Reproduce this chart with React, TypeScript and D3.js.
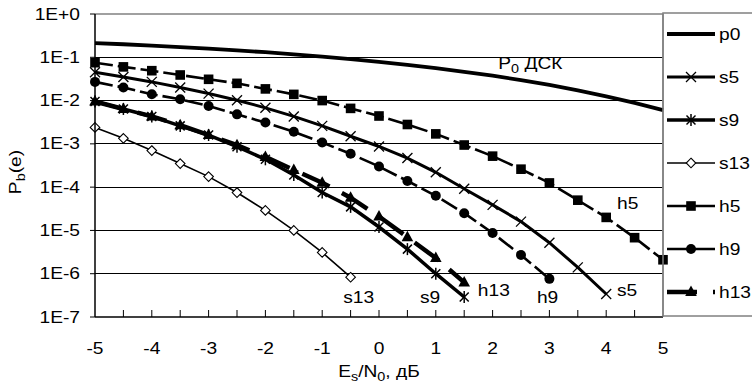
import React from 'react';
import * as d3 from 'd3';

const width = 752;
const height = 387;
const margin = { top: 14, right: 89, bottom: 70, left: 95 };

// Es/N0, dB
const xP0 = [-5, -4.5, -4, -3.5, -3, -2.5, -2, -1.5, -1, -0.5, 0, 0.5, 1, 1.5, 2, 2.5, 3, 3.5, 4, 4.5, 5];
const p0 = [0.213, 0.2, 0.186, 0.172, 0.158, 0.144, 0.131, 0.117, 0.104, 0.091, 0.0786, 0.067, 0.0563, 0.046, 0.0375, 0.0296, 0.0229, 0.0172, 0.0125, 0.0088, 0.006];

const xS5 = [-5, -4.5, -4, -3.5, -3, -2.5, -2, -1.5, -1, -0.5, 0, 0.5, 1, 1.5, 2, 2.5, 3, 3.5, 4];
const s5 = [0.045, 0.035, 0.027, 0.02, 0.0145, 0.0102, 0.0068, 0.0043, 0.0026, 0.0015, 0.00087, 0.00047, 0.00022, 0.000092, 0.000039, 0.000016, 0.0000052, 0.0000014, 0.00000034];

const xS9 = [-5, -4.5, -4, -3.5, -3, -2.5, -2, -1.5, -1, -0.5, 0, 0.5, 1, 1.5];
const s9 = [0.0095, 0.0064, 0.0043, 0.0026, 0.0016, 0.00086, 0.00044, 0.00019, 0.000075, 0.000035, 0.000012, 0.0000037, 0.000001, 0.00000029];

const xS13 = [-5, -4.5, -4, -3.5, -3, -2.5, -2, -1.5, -1, -0.5];
const s13 = [0.0024, 0.00134, 0.0007, 0.00035, 0.000175, 0.000075, 0.000029, 0.00001, 0.0000031, 0.00000083];

const xH5 = [-5, -4.5, -4, -3.5, -3, -2.5, -2, -1.5, -1, -0.5, 0, 0.5, 1, 1.5, 2, 2.5, 3, 3.5, 4, 4.5, 5];
const h5 = [0.075, 0.06, 0.049, 0.039, 0.031, 0.025, 0.0186, 0.0139, 0.01, 0.0066, 0.0044, 0.0028, 0.0017, 0.00094, 0.00052, 0.00026, 0.000125, 0.00005, 0.00002, 0.0000068, 0.0000021];

const xH9 = [-5, -4.5, -4, -3.5, -3, -2.5, -2, -1.5, -1, -0.5, 0, 0.5, 1, 1.5, 2, 2.5, 3];
const h9 = [0.027, 0.02, 0.014, 0.0107, 0.0075, 0.0048, 0.0031, 0.0019, 0.00107, 0.00059, 0.0003, 0.000139, 0.000063, 0.000025, 0.0000087, 0.0000027, 0.00000076];

const xH13 = [-5, -4.5, -4, -3.5, -3, -2.5, -2, -1.5, -1, -0.5, 0, 0.5, 1, 1.5];
const h13 = [0.0095, 0.0064, 0.0043, 0.0027, 0.0016, 0.00093, 0.0005, 0.00025, 0.000126, 0.000057, 0.000021, 0.000007, 0.0000023, 0.00000063];

const yTicks = [1, 1e-1, 1e-2, 1e-3, 1e-4, 1e-5, 1e-6, 1e-7];
const yTickLabels = ['1E+0', '1E-1', '1E-2', '1E-3', '1E-4', '1E-5', '1E-6', '1E-7'];
const xTicks = [-5, -4, -3, -2, -1, 0, 1, 2, 3, 4, 5];
const xMinorTicks = [-4.5, -4, -3.5, -3, -2.5, -2, -1.5, -1, -0.5, 0, 0.5, 1, 1.5, 2, 2.5, 3, 3.5, 4, 4.5];

const font = 'Arial, "Liberation Sans", sans-serif';
const fs = 16;
const sx = 1.2; // glyphs in the original are a bit stretched horizontally

type Marker = 'none' | 'x' | 'star' | 'diamond' | 'square' | 'circle' | 'triangle';

const series: { name: string; xs: number[]; ys: number[]; width: number; dash?: string; marker: Marker }[] = [
  { name: 'p0', xs: xP0, ys: p0, width: 3.8, marker: 'none' },
  { name: 's5', xs: xS5, ys: s5, width: 3, marker: 'x' },
  { name: 's9', xs: xS9, ys: s9, width: 3.5, marker: 'star' },
  { name: 's13', xs: xS13, ys: s13, width: 1.6, marker: 'diamond' },
  { name: 'h5', xs: xH5, ys: h5, width: 2.6, dash: '18,5', marker: 'square' },
  { name: 'h9', xs: xH9, ys: h9, width: 2.6, dash: '18,5', marker: 'circle' },
  { name: 'h13', xs: xH13, ys: h13, width: 4.5, dash: '30,14', marker: 'triangle' },
];

function Label({ x, y, anchor = 'start', rotate = 0, children }: { x: number; y: number; anchor?: string; rotate?: number; children: React.ReactNode }) {
  return (
    <text
      transform={`translate(${x},${y}) rotate(${rotate}) scale(${sx},1)`}
      dy="0.35em"
      textAnchor={anchor}
      fontFamily={font}
      fontSize={fs}
    >
      {children}
    </text>
  );
}

function MarkerShape({ type, x, y }: { type: Marker; x: number; y: number }) {
  const t = `translate(${x},${y})`;
  switch (type) {
    case 'x':
      return (
        <g transform={t} stroke="#000" strokeWidth={1.3}>
          <line x1={-5} y1={-5} x2={5} y2={5} />
          <line x1={-5} y1={5} x2={5} y2={-5} />
        </g>
      );
    case 'star':
      return (
        <g transform={t} stroke="#000" strokeWidth={1.5}>
          <line x1={-4.5} y1={-4.5} x2={4.5} y2={4.5} />
          <line x1={-4.5} y1={4.5} x2={4.5} y2={-4.5} />
          <line x1={0} y1={-6} x2={0} y2={6} />
        </g>
      );
    case 'diamond':
      return <path transform={t} d="M0,-4.8L4.8,0L0,4.8L-4.8,0Z" fill="#fff" stroke="#000" strokeWidth={1.1} />;
    case 'square':
      return <rect x={x - 4.8} y={y - 4.8} width={9.6} height={9.6} fill="#000" />;
    case 'circle':
      return <circle cx={x} cy={y} r={5} fill="#000" />;
    case 'triangle':
      return <path transform={t} d="M0,-6.5L5.8,4L-5.8,4Z" fill="#000" />;
    default:
      return null;
  }
}

export default function App() {
  const x = d3.scaleLinear().domain([-5, 5]).range([margin.left, width - margin.right]);
  const y = d3.scaleLog().domain([1e-7, 1]).range([height - margin.bottom, margin.top]);
  const line = d3.line<[number, number]>().x(d => x(d[0])).y(d => y(d[1]));

  const x0 = x(-5);
  const x1 = x(5);
  const yTop = y(1);
  const yBot = y(1e-7);

  const legendX = x1 + 4;
  const legendY0 = 34;
  const legendStep = 43;
  const sub = 12;

  return (
    <svg width={width} height={height} style={{ position: 'absolute', left: 0, top: 0, background: '#fff' }}>
      <rect x={0} y={0} width={width} height={height} fill="#fff" />

      {/* gridlines */}
      {yTicks.slice(1, -1).map(v => (
        <line key={v} x1={x0} x2={x1} y1={y(v)} y2={y(v)} stroke="#000" strokeWidth={1} shapeRendering="crispEdges" />
      ))}
      <line x1={x0} x2={x1} y1={yTop} y2={yTop} stroke="#808080" strokeWidth={1.5} />
      <line x1={x1} x2={x1} y1={yTop} y2={yBot} stroke="#808080" strokeWidth={1.5} />

      {/* series */}
      {series.map(s => (
        <g key={s.name}>
          <path
            d={line(s.xs.map((v, i) => [v, s.ys[i]] as [number, number])) || ''}
            fill="none"
            stroke="#000"
            strokeWidth={s.width}
            strokeDasharray={s.dash}
          />
          {s.xs.map((v, i) => (
            <MarkerShape key={i} type={s.marker} x={x(v)} y={y(s.ys[i])} />
          ))}
        </g>
      ))}

      {/* axes */}
      <line x1={x0} x2={x0} y1={yTop} y2={yBot} stroke="#000" strokeWidth={1.5} />
      <line x1={x0} x2={x1} y1={yBot} y2={yBot} stroke="#000" strokeWidth={1.5} />
      {yTicks.map((v, i) => (
        <g key={v}>
          <line x1={x0 - 5} x2={x0} y1={y(v)} y2={y(v)} stroke="#000" strokeWidth={1} />
          <Label x={x0 - 15} y={y(v)} anchor="end">{yTickLabels[i]}</Label>
        </g>
      ))}
      {xMinorTicks.map(v => (
        <line key={v} x1={x(v)} x2={x(v)} y1={yBot} y2={yBot - 7} stroke="#000" strokeWidth={1} />
      ))}
      {xTicks.map(v => (
        <Label key={v} x={x(v)} y={348} anchor="middle">{v}</Label>
      ))}

      {/* axis titles */}
      <Label x={379} y={371} anchor="middle">
        E<tspan fontSize={sub} dy={4}>s</tspan>
        <tspan dy={-4}>/N</tspan>
        <tspan fontSize={sub} dy={4}>0</tspan>
        <tspan dy={-4}>, дБ</tspan>
      </Label>
      <Label x={15} y={172} anchor="middle" rotate={-90}>
        P<tspan fontSize={sub} dy={4}>b</tspan>
        <tspan dy={-4}>(e)</tspan>
      </Label>

      {/* curve labels */}
      <Label x={x(2.1)} y={y(10 ** -1.13)}>
        P<tspan fontSize={sub} dy={4}>0</tspan>
        <tspan dy={-4}> ДСК</tspan>
      </Label>
      <Label x={x(4.19)} y={y(10 ** -4.38)}>h5</Label>
      <Label x={x(4.19)} y={y(10 ** -6.38)}>s5</Label>
      <Label x={x(2.78)} y={y(10 ** -6.55)}>h9</Label>
      <Label x={x(1.74)} y={y(10 ** -6.38)}>h13</Label>
      <Label x={x(0.72)} y={y(10 ** -6.55)}>s9</Label>
      <Label x={x(-0.63)} y={y(10 ** -6.55)}>s13</Label>

      {/* legend */}
      <rect x={x1} y={13} width={width - x1 + 5} height={303} fill="none" stroke="#808080" strokeWidth={1.5} />
      {series.map((s, i) => {
        const ly = legendY0 + i * legendStep;
        return (
          <g key={s.name}>
            <line x1={legendX} x2={legendX + 48} y1={ly} y2={ly} stroke="#000" strokeWidth={s.width} strokeDasharray={s.dash ? (s.name === 'h13' ? '30,16' : '60,0') : undefined} />
            <MarkerShape type={s.marker} x={legendX + 24} y={ly} />
            <Label x={legendX + 52} y={ly}>{s.name}</Label>
          </g>
        );
      })}
    </svg>
  );
}
